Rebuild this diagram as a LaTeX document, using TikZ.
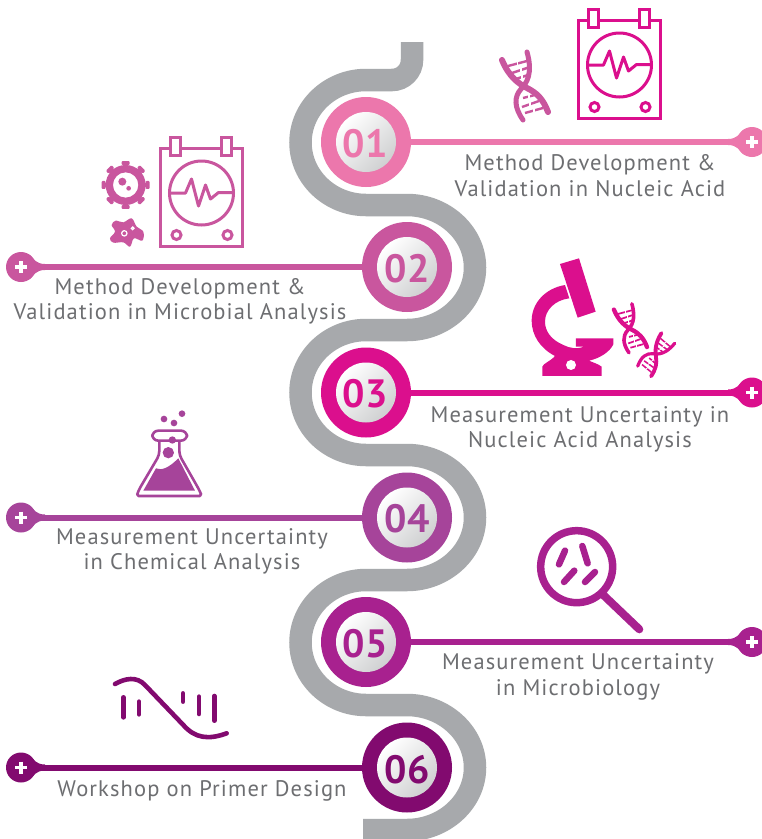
\documentclass[tikz,border=0pt]{standalone}
\usepackage{fontspec}
\setmainfont{PT Sans}
\newfontfamily\lblfont[LetterSpace=5]{PT Sans}
\newfontfamily\numfont{PT Sans}
\definecolor{cA}{HTML}{EC77AC}
\definecolor{cB}{HTML}{C9569E}
\definecolor{cC}{HTML}{DB0F8D}
\definecolor{cD}{HTML}{A6449A}
\definecolor{cE}{HTML}{A8218F}
\definecolor{cF}{HTML}{820A6F}
\definecolor{ribbon}{HTML}{A7A9AC}
\definecolor{txt}{HTML}{6D6E71}
\definecolor{shadeend}{HTML}{CFD0D1}
\tikzset{
  ring/.style={circle,inner sep=0pt,minimum size=90pt,fill=#1},
  core/.style={circle,inner sep=0pt,minimum size=60pt,top color=white,bottom color=shadeend,shading angle=45},
  digits/.style={text=#1,inner sep=0pt,font=\numfont\bfseries\fontsize{39.5}{40}\selectfont},
  knob/.style={circle,inner sep=0pt,minimum size=30pt,fill=#1},
  link/.style={draw=#1,line width=6pt},
  lbl/.style={text=txt,align=center,inner sep=0pt,font=\lblfont\fontsize{22.5}{25.5}\selectfont},
}
\newcommand{\flare}[4]{%
  \begin{scope}[shift={(#1,#2)},xscale=#3]
    \fill[#4] (-24,-3) .. controls (-15,-3) and (-13,-8) .. (-9,-12) -- (-9,12) .. controls (-13,8) and (-15,3) .. (-24,3) -- cycle;
    \draw[white,line width=3.6pt] (-6,0) -- (6,0) (0,-6) -- (0,6);
  \end{scope}}
\newcommand{\devicepic}[3]{%
  \begin{scope}[shift={(#1,#2)},draw=#3,line width=3pt]
    \draw (0,0) rectangle (82,98);
    \draw[fill=white] (10,-11) rectangle (20,7);
    \draw[fill=white] (61,-11) rectangle (71,7);
    \draw (41,45) circle (32);
    \draw[line join=round] (9,45) -- (25,45) -- (31,31) -- (38,58) -- (45,37) -- (50,51) -- (58,44.5) -- (73,44.5);
    \draw (16,87) circle (4.5);
    \draw (67,87) circle (4.5);
  \end{scope}}
\newcommand{\helix}[5]{%
  \begin{scope}[shift={(#1,#2)},rotate=#3,scale=#4]
    \draw[#5,line width=#4*6pt,line cap=round] (-21,-27) .. controls (-14,-10) and (-4,-3) .. (4,1) .. controls (14,6) and (20,12) .. (25,25);
    \draw[#5,line width=#4*5pt,line cap=round] (4,-35) .. controls (10,-14) and (4,-4) .. (-2,2) .. controls (-9,10) and (-9,20) .. (0,33);
    \draw[#5,line width=#4*2.4pt] (-15,-21) -- (4,-26) (-11,-14) -- (7,-20) (-7,-8) -- (5,-12)
      (0,11) -- (12,8) (-1,20) -- (16,14) (2,26) -- (20,21);
    \draw[white,line width=#4*1.2pt] (-5.5,-26) -- (-5.5,-20) (-2,-19) -- (-2,-15) (-1,-12) -- (-1,-8) (6,8) -- (6,12) (7,15) -- (7,19) (11,21) -- (11,25);
  \end{scope}}
\begin{document}
\begin{tikzpicture}[x=1pt,y=-1pt]
\clip (0,0) rectangle (762,839);
\fill[white] (0,0) rectangle (762,839);
% serpentine
\draw[ribbon,line width=22.5pt] (412,42) -- (412,60) .. controls (412,71) and (403,80) .. (392,80) -- (366,80)
  .. controls (330,80) and (300.5,108) .. (300.5,142.5) .. controls (300.5,177) and (330,205) .. (366,205) -- (407,205)
  .. controls (444,205) and (475,233) .. (475,267.5) .. controls (475,302) and (444,330) .. (407,330) -- (366,330)
  .. controls (330,330) and (300.5,358) .. (300.5,392.5) .. controls (300.5,427) and (330,455) .. (366,455) -- (407,455)
  .. controls (444,455) and (475,483) .. (475,517.5) .. controls (475,552) and (444,580) .. (407,580) -- (366,580)
  .. controls (330,580) and (300.5,608) .. (300.5,642.5) .. controls (300.5,677) and (330,705) .. (366,705) -- (407,705)
  .. controls (444,705) and (475,733) .. (475,767.5) .. controls (475,802) and (444,830) .. (407,830) -- (363,830);
% rings and knobs
\node[ring=cA] (r1) at (366,142) {};
\node[ring=cB] (r2) at (407,267) {};
\node[ring=cC] (r3) at (366,392.5) {};
\node[ring=cD] (r4) at (407,517.5) {};
\node[ring=cE] (r5) at (366,642) {};
\node[ring=cF] (r6) at (407,767.5) {};
\node[knob=cA] (k1) at (752,142) {};
\node[knob=cB] (k2) at (21,267) {};
\node[knob=cC] (k3) at (752,392.5) {};
\node[knob=cD] (k4) at (21,517.5) {};
\node[knob=cE] (k5) at (752,642) {};
\node[knob=cF] (k6) at (21,767.5) {};
\draw[link=cA] (r1) -- (k1);
\draw[link=cB] (r2) -- (k2);
\draw[link=cC] (r3) -- (k3);
\draw[link=cD] (r4) -- (k4);
\draw[link=cE] (r5) -- (k5);
\draw[link=cF] (r6) -- (k6);
\flare{752}{142}{1}{cA}
\flare{21}{267}{-1}{cB}
\flare{752}{392.5}{1}{cC}
\flare{21}{517.5}{-1}{cD}
\flare{752}{642}{1}{cE}
\flare{21}{767.5}{-1}{cF}
\node[core] (n1) at (366,142) {};
\node[core] (n2) at (407,267) {};
\node[core] (n3) at (366,392.5) {};
\node[core] (n4) at (407,517.5) {};
\node[core] (n5) at (366,642) {};
\node[core] (n6) at (407,767.5) {};
\node[digits=cA] (d1) at (365,143.5) {01};
\node[digits=cB] (d2) at (407,268.5) {02};
\node[digits=cC] (d3) at (365,394) {03};
\node[digits=cD] (d4) at (407,519) {04};
\node[digits=cE] (d5) at (365,643.5) {05};
\node[digits=cF] (d6) at (407,770) {06};
% labels
\node[lbl] (t1) at (590,175.5) {Method Development \&\\Validation in Nucleic Acid};
\node[lbl] (t2) at (180,301.5) {Method Development \&\\Validation in Microbial Analysis};
\node[lbl] (t3) at (580,429.5) {Measurement Uncertainty in\\Nucleic Acid Analysis};
\node[lbl] (t4) at (192,551.5) {Measurement Uncertainty\\in Chemical Analysis};
\node[lbl] (t5) at (578,677) {Measurement Uncertainty\\in Microbiology};
\node[lbl] (t6) at (202,791) {Workshop on Primer Design};
% icon 1
\devicepic{578.5}{20}{cC}
\helix{523}{87}{0}{1}{cB}
% icon 2
\devicepic{160.5}{148}{cB}
\begin{scope}[shift={(0,130)},x=0.3333pt,y=-0.3333pt]
  \fill[cB,even odd rule] (377,165) circle (60) (377,165) circle (38);
  \foreach \a in {0,45,...,315}{
    \begin{scope}[shift={(377,165)},rotate=\a]
      \fill[cB] (50,-7) rectangle (66,7);
      \fill[cB,rounded corners=1pt] (60,-12) rectangle (72,12);
    \end{scope}}
  \fill[cB] (367,155) circle (12) (386,175) circle (7);
  \fill[cB] plot[smooth cycle,tension=0.6] coordinates {(335,285)(347,272)(370,277)(395,265)(410,290)(430,305)(427,332)(402,325)(390,350)(370,337)(340,338)(330,325)(345,305)};
  \draw[white,line width=1.2pt] (373,310) circle (8) (398,295) circle (4);
\end{scope}
% icon 3: microscope
\begin{scope}[shift={(510,250)},x=0.3333pt,y=-0.3333pt]
  \fill[cC] (150,42) -- (207,25) -- (257,185) -- (203,203) -- cycle;
  \fill[cC] (165,105) .. controls (105,115) and (65,160) .. (65,212) .. controls (65,255) and (90,295) .. (135,318)
    .. controls (120,335) and (100,340) .. (97,350) -- (97,378) -- (275,378) -- (275,350) .. controls (265,342) and (250,338) .. (237,332)
    .. controls (270,325) and (300,305) .. (310,283) -- (310,265) -- (198,265) -- (198,290) -- (222,290) .. controls (200,298) and (180,295) .. (160,285)
    .. controls (125,270) and (105,245) .. (105,215) .. controls (105,180) and (135,150) .. (178,145) -- cycle;
  \fill[white] (183,345) circle (15);
\end{scope}
\helix{629}{329}{0}{0.72}{cC}
\helix{655}{354}{-55}{0.64}{cC}
% icon 4: flask
\begin{scope}[shift={(100,400)},x=0.3333pt,y=-0.3333pt]
  \draw[cD,line width=2.6pt,line join=round,rounded corners=4pt] (178,122) -- (178,165) -- (115,272) .. controls (112,282) and (117,288) .. (127,288) -- (288,288) .. controls (298,288) and (303,282) .. (299,272) -- (238,165) -- (238,122);
  \draw[cD,line width=2.6pt,rounded corners=6pt] (157,92) rectangle (261,122);
  \fill[cD] (130,272) -- (168,205) .. controls (185,212) and (205,205) .. (235,175) -- (285,272) -- cycle;
  \fill[cD] (205,158) circle (17) (217,120) circle (11) (192,57) circle (10) (222,69) circle (10) (246,41) circle (10);
\end{scope}
% icon 5: magnifier
\begin{scope}[shift={(520,520)},x=0.3333pt,y=-0.3333pt]
  \draw[cE,line width=7.5pt] (170,140) circle (108);
  \draw[cE,line width=8pt,line cap=round] (250,225) -- (358,328);
  \draw[cE,line width=6.5pt,line cap=round] (135,92) -- (117,133) (187,78) -- (203,130) (163,152) -- (132,186) (225,156) -- (195,186);
\end{scope}
% icon 6: primer
\begin{scope}[shift={(0,670)},x=0.3333pt,y=-0.3333pt]
  \draw[cF,line width=4.6pt,line cap=round] (345,42) .. controls (375,25) and (410,18) .. (435,45) -- (550,165) .. controls (585,205) and (625,210) .. (680,190);
  \draw[cF,line width=4.6pt,line cap=round] (370,82) -- (370,142) (417,95) -- (417,133) (549,70) -- (549,95) (597,80) -- (597,132) (643,78) -- (643,152);
\end{scope}
\end{tikzpicture}
\end{document}
